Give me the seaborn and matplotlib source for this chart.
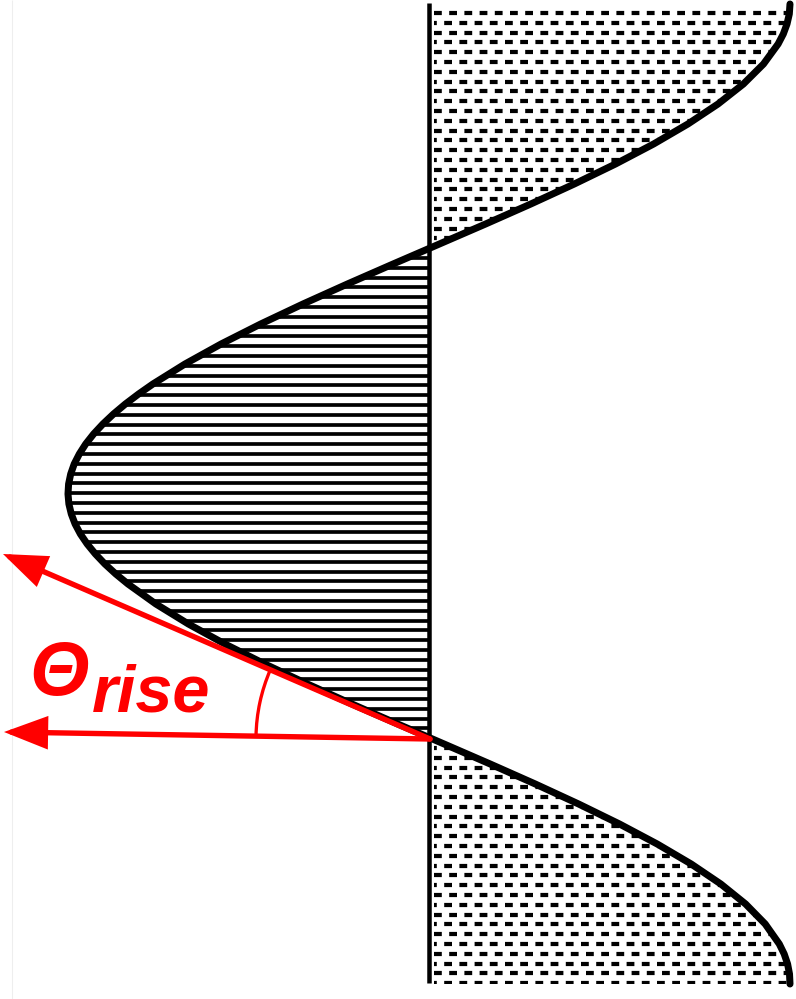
import numpy as np
import matplotlib
matplotlib.use("Agg")
import matplotlib.pyplot as plt
import seaborn as sns
from matplotlib.path import Path
from matplotlib.patches import PathPatch, Arc

# ---- data (pixel-like coordinates, y downwards) ----
curve_y = [4, 14, 24, 34, 44, 64, 84, 104, 124, 144, 164, 184,
           204, 224, 244, 264, 284, 304, 324, 344, 364, 384,
           394, 404, 414, 424, 434, 444, 454, 464, 474, 484, 494,
           504, 514, 524, 534, 544, 554, 564, 574, 584,
           604, 624, 644, 664, 684, 704, 724, 744, 764, 784,
           804, 824, 844, 864, 884, 904, 924, 944, 954, 964, 974, 984]
curve_x = [790.0, 789.3, 787.0, 783.3, 778.1, 763.5, 743.4, 718.0, 687.9, 653.6, 615.5, 574.3,
           530.8, 485.6, 439.4, 393.1, 347.4, 303.0, 260.7, 221.1, 185.0, 152.9,
           138.6, 125.4, 113.5, 102.9, 93.6, 85.7, 79.3, 74.2, 70.7, 68.6, 68.0,
           68.9, 71.3, 75.1, 80.4, 87.2, 95.4, 104.9, 115.8, 128.0,
           155.9, 188.4, 224.9, 264.8, 307.4, 351.9, 397.7, 444.1, 490.2, 535.3,
           578.6, 619.5, 657.2, 691.2, 720.8, 745.6, 765.2, 779.3, 784.2, 787.6, 789.5, 790.0]
axis_x = 429
axis_y_range = [3, 983]

origin = (430, 739)            # where the tangent meets the axis
tangent_tip = (3, 554)
horizontal_tip = (4, 732)
arc_radius = 174
label_main = "Θ"
label_sub = "rise"

# ---- figure ----
sns.set_theme(style="white")
plt.rcParams["lines.scale_dashes"] = False
W, H, DPI = 796, 999, 100
fig = plt.figure(figsize=(W / DPI, H / DPI), dpi=DPI)
ax = fig.add_axes([0, 0, 1, 1])
ax.set_xlim(0, W)
ax.set_ylim(H, 0)
ax.axis("off")

cx = np.array(curve_x)
cy = np.array(curve_y)

# faint frame line at the left edge
ax.vlines(12, 0, H, colors="#eeeeee", linewidth=0.8, zorder=0)

# regions
left_poly = ax.fill_betweenx(cy, cx, axis_x, where=cx <= axis_x, interpolate=True,
                             facecolor="white", edgecolor="none", zorder=1)
right_poly = ax.fill_betweenx(cy, cx, axis_x, where=cx >= axis_x, interpolate=True,
                              facecolor="white", edgecolor="none", zorder=1)

def clip_patch(coll):
    p = PathPatch(Path.make_compound_path(*coll.get_paths()), transform=ax.transData,
                  facecolor="none", edgecolor="none")
    ax.add_patch(p)
    return p

clip_left = clip_patch(left_poly)
clip_right = clip_patch(right_poly)

rows = np.arange(13, 990, 9.8)
px = 0.72  # points per pixel at 100 dpi

# horizontal hatch on the left lobe
hl = ax.hlines(rows, 0, W, colors="black", linewidth=3.7 * px, zorder=2)
hl.set_clip_path(clip_left)

# dashed hatch on the right lobes (staggered rows)
for k, off in enumerate([0.0, 5.0 * px]):
    r = rows[k::2]
    dl = ax.hlines(r, axis_x + 5, W, colors="black", linewidth=4.2 * px,
                   linestyles=[(off, (7.8 * px, 7.4 * px))], zorder=2)
    dl.set_clip_path(clip_right)

# axis line
ax.vlines(axis_x, axis_y_range[0], axis_y_range[1], colors="black",
          linewidth=4.5 * px, zorder=3)

# the curve
sns.lineplot(x=cx, y=cy, sort=False, estimator=None, color="black",
             linewidth=7.0 * px, ax=ax, zorder=4)

# red arrows
arrow_kw = dict(arrowstyle="-|>,head_length=0.42,head_width=0.16", color="red",
                lw=5.4 * px, mutation_scale=58, shrinkA=0, shrinkB=0,
                joinstyle="miter")
ax.annotate("", xy=tangent_tip, xytext=origin, arrowprops=arrow_kw, zorder=6)
ax.annotate("", xy=horizontal_tip, xytext=origin, arrowprops=arrow_kw, zorder=6)

# angle arc
a1 = np.degrees(np.arctan2(horizontal_tip[1] - origin[1], horizontal_tip[0] - origin[0])) % 360
a2 = np.degrees(np.arctan2(tangent_tip[1] - origin[1], tangent_tip[0] - origin[0])) % 360
ax.add_patch(Arc(origin, 2 * arc_radius, 2 * arc_radius, theta1=min(a1, a2),
                 theta2=max(a1, a2), color="red", lw=3.3 * px, zorder=6))

# label
ax.text(29, 695, label_main, color="red", fontsize=55, fontweight="bold",
        fontstyle="italic", family=["Liberation Sans", "DejaVu Sans"],
        ha="left", va="baseline", zorder=7)
ax.text(92, 711, label_sub, color="red", fontsize=48, fontweight="bold",
        fontstyle="italic", family=["Liberation Sans", "DejaVu Sans"],
        ha="left", va="baseline", zorder=7)

fig.savefig("out.png", dpi=DPI, facecolor="white")
